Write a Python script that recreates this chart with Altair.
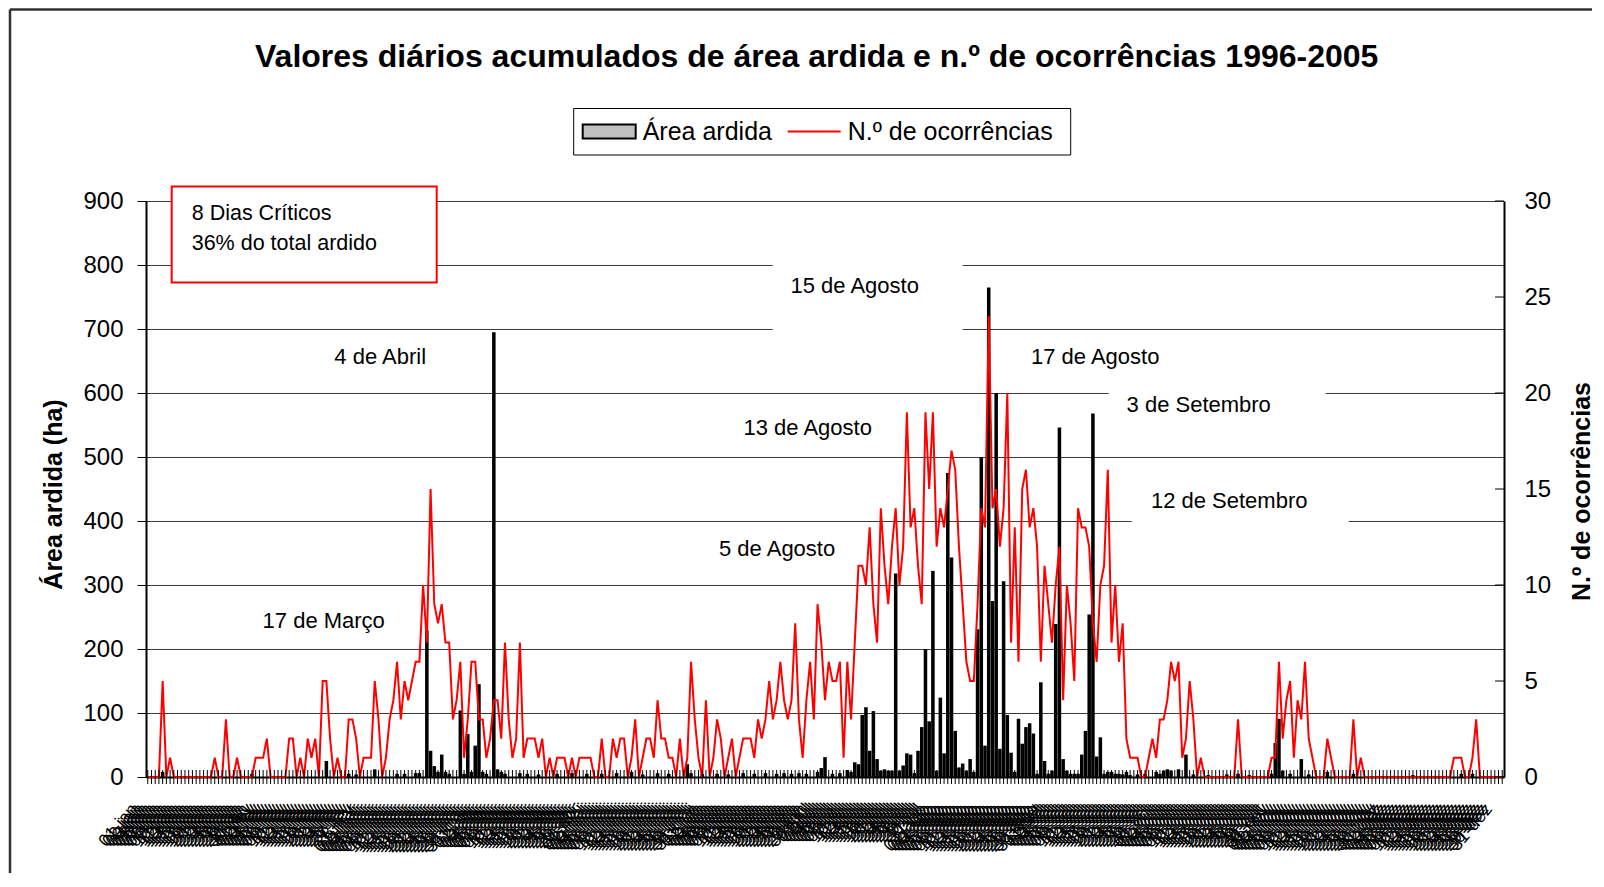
import altair as alt
import pandas as pd

TITULO = "Valores diários acumulados de área ardida e n.º de ocorrências 1996-2005"
MESES = ["jan", "fev", "mar", "abr", "mai", "jun", "jul", "ago", "set", "out", "nov", "dez"]

# N.º de ocorrências (eixo direito), por dia, mês a mês
ocorr_jan = [0, 0, 0, 0, 5, 0, 1, 0, 0, 0, 0, 0, 0, 0, 0, 0, 0, 0, 1, 0, 0, 3, 0, 0, 1, 0, 0, 0, 0, 1, 1]
ocorr_fev = [1, 2, 0, 0, 0, 0, 0, 2, 2, 0, 1, 0, 2, 1, 2, 0, 5, 5, 2, 0, 1, 0, 0, 3, 3, 2, 0, 1]
ocorr_mar = [1, 1, 5, 3, 0, 1, 3, 4, 6, 3, 5, 4, 5, 6, 6, 10, 7, 15, 9, 8, 9, 7, 7, 3, 4, 6, 1, 3, 6, 6, 3]
ocorr_abr = [3, 1, 2, 4, 4, 2, 7, 3, 1, 2, 7, 1, 2, 2, 2, 1, 2, 0, 1, 0, 1, 1, 1, 0, 1, 0, 1, 1, 1, 1]
ocorr_mai = [0, 0, 2, 0, 0, 2, 1, 2, 2, 0, 1, 3, 0, 1, 2, 2, 1, 4, 2, 2, 1, 1, 0, 2, 0, 1, 6, 3, 1, 0, 4]
ocorr_jun = [0, 1, 3, 2, 0, 1, 2, 0, 1, 2, 2, 2, 1, 3, 2, 3, 5, 3, 4, 6, 4, 3, 4, 8, 3, 1, 4, 6, 3, 9]
ocorr_jul = [7, 4, 6, 5, 5, 6, 1, 6, 3, 7, 11, 11, 10, 13, 9, 7, 14, 11, 9, 12, 14, 10, 12, 19, 13, 14, 11, 9, 19, 15, 19]
ocorr_ago = [12, 14, 13, 15, 17, 16, 12, 9, 6, 5, 5, 9, 14, 13, 24, 14, 15, 12, 14, 20, 7, 13, 6, 15, 16, 13, 14, 12, 6, 11, 9]
ocorr_set = [7, 10, 12, 4, 10, 8, 5, 14, 13, 13, 12, 8, 6, 10, 11, 16, 7, 10, 6, 8, 2, 1, 1, 1, 0, 0, 1, 2, 1, 3]
ocorr_out = [3, 4, 6, 5, 6, 1, 2, 5, 3, 0, 1, 0, 0, 0, 0, 0, 0, 0, 0, 0, 3, 0, 0, 0, 0, 0, 0, 0, 0, 1, 1]
ocorr_nov = [6, 2, 4, 5, 1, 4, 3, 6, 2, 1, 0, 0, 0, 2, 1, 0, 0, 0, 0, 0, 3, 0, 1, 0, 0, 0, 0, 0, 0, 0]
ocorr_dez = [0, 0, 0, 0, 0, 0, 0, 0, 0, 0, 0, 0, 0, 0, 0, 0, 0, 1, 1, 1, 0, 0, 1, 3, 0, 0, 0, 0, 0, 0, 0]

# Área ardida (ha) (eixo esquerdo), por dia, mês a mês
area_jan = [0, 0, 0, 0, 8, 0, 0, 0, 0, 0, 0, 0, 0, 0, 0, 0, 0, 0, 0, 0, 0, 0, 0, 0, 0, 0, 0, 0, 5, 0, 0]
area_fev = [0, 0, 0, 0, 0, 0, 0, 0, 0, 0, 0, 0, 0, 0, 0, 0, 0, 25, 0, 0, 0, 0, 0, 5, 0, 4, 0, 0]
area_mar = [0, 0, 12, 0, 0, 0, 0, 0, 5, 0, 5, 0, 0, 6, 6, 0, 229, 41, 17, 8, 35, 8, 5, 0, 0, 104, 5, 67, 8, 49, 145]
area_abr = [8, 5, 0, 695, 12, 8, 5, 0, 0, 0, 6, 0, 5, 0, 0, 4, 0, 0, 0, 0, 5, 0, 0, 0, 6, 0, 0, 0, 5, 0]
area_mai = [0, 0, 5, 0, 0, 0, 6, 0, 0, 0, 8, 0, 0, 4, 0, 0, 0, 6, 0, 0, 5, 0, 0, 0, 0, 20, 6, 0, 0, 5, 0]
area_jun = [0, 0, 5, 0, 0, 4, 0, 0, 0, 6, 0, 0, 5, 0, 0, 6, 0, 0, 5, 0, 6, 0, 5, 0, 6, 0, 5, 0, 0, 8]
area_jul = [14, 31, 0, 5, 0, 6, 0, 11, 8, 23, 20, 97, 109, 41, 103, 28, 10, 12, 10, 10, 318, 10, 18, 37, 35, 6, 41, 78, 200, 87, 322]
area_ago = [10, 124, 37, 475, 343, 72, 15, 21, 10, 28, 8, 231, 500, 49, 765, 275, 600, 44, 306, 97, 38, 8, 91, 52, 78, 84, 68, 5, 148, 25, 5]
area_set = [10, 239, 546, 28, 10, 5, 5, 5, 35, 72, 254, 568, 32, 62, 5, 8, 8, 5, 5, 4, 8, 3, 0, 4, 0, 5, 0, 0, 8, 5]
area_out = [10, 12, 10, 0, 12, 0, 35, 0, 4, 0, 0, 0, 3, 0, 0, 0, 0, 4, 0, 0, 5, 0, 0, 3, 0, 0, 0, 0, 0, 5, 53]
area_nov = [91, 10, 0, 5, 0, 0, 28, 0, 4, 0, 0, 0, 0, 8, 0, 0, 0, 0, 0, 0, 5, 0, 0, 0, 0, 0, 0, 0, 0, 0]
area_dez = [0, 0, 0, 0, 0, 0, 3, 0, 0, 0, 0, 0, 0, 0, 0, 0, 0, 0, 0, 5, 0, 0, 5, 0, 0, 0, 0, 0, 0, 0, 0]

AREA_TICKS = [0, 100, 200, 300, 400, 500, 600, 700, 800, 900]
OCORR_TICKS = [0, 5, 10, 15, 20, 25, 30]

ROTULOS = ["15 de Agosto", "4 de Abril", "17 de Agosto", "3 de Setembro",
           "12 de Setembro", "13 de Agosto", "5 de Agosto", "17 de Março"]
CAIXA = ["8 Dias Críticos", "36% do total ardido"]
LEGENDA = ["Área ardida", "N.º de ocorrências"]

OCORR = [ocorr_jan, ocorr_fev, ocorr_mar, ocorr_abr, ocorr_mai, ocorr_jun,
         ocorr_jul, ocorr_ago, ocorr_set, ocorr_out, ocorr_nov, ocorr_dez]
AREA = [area_jan, area_fev, area_mar, area_abr, area_mai, area_jun,
        area_jul, area_ago, area_set, area_out, area_nov, area_dez]

dias, area, ocorr = [], [], []
for mes, a_list, o_list in zip(MESES, AREA, OCORR):
    for d, (a, o) in enumerate(zip(a_list, o_list), start=1):
        dias.append(f"{d:02d}-{mes}")
        area.append(a)
        ocorr.append(o)
df = pd.DataFrame({"dia": dias, "area": area, "n": ocorr})

# ---------------- layout (pixels relative to plot area) ----------------
W, H = 1358, 576
FONT = "Liberation Sans"
ONE = pd.DataFrame({"k": [0]})

xenc = alt.X(
    "dia:N", sort=dias, title=None,
    scale=alt.Scale(paddingInner=0.05, paddingOuter=0),
    axis=alt.Axis(labelAngle=310, labelAlign="right", labelBaseline="middle",
                  labelFontSize=18, labelPadding=29, labelOffset=-13,
                  labelOverlap=False, labelColor="black", ticks=False,
                  domainColor="black", domainWidth=2, labelFont=FONT),
)

bars = alt.Chart(df).mark_bar(color="black").encode(
    x=xenc,
    y=alt.Y("area:Q", scale=alt.Scale(domain=[0, 900], nice=False),
            axis=alt.Axis(values=AREA_TICKS, title="Área ardida (ha)",
                          titleFontSize=25, titleFontWeight="bold", titleAngle=270,
                          titleX=-93, titleY=293, titleAlign="center",
                          titleBaseline="middle", titleColor="black",
                          labelFontSize=24, labelPadding=14, labelColor="black",
                          tickSize=9, tickColor="black", domainColor="black",
                          domainWidth=2, grid=True, gridColor="#3a3a3a",
                          gridWidth=1, labelFont=FONT, titleFont=FONT)),
)

line = alt.Chart(df).mark_line(color="#ff0000", strokeWidth=2).encode(
    x=xenc,
    y=alt.Y("n:Q", scale=alt.Scale(domain=[0, 30], nice=False),
            axis=alt.Axis(orient="right", values=OCORR_TICKS,
                          title="N.º de ocorrências", titleFontSize=25,
                          titleFontWeight="bold", titleAngle=270, titleX=77,
                          titleY=290, titleAlign="center", titleBaseline="middle",
                          titleColor="black", labelFontSize=24, labelPadding=20,
                          labelColor="black", ticks=False, domainColor="black",
                          domainWidth=2, grid=False, labelFont=FONT, titleFont=FONT)),
)

xticks = alt.Chart(df).mark_rule(color="black", strokeWidth=1).encode(
    x=xenc, y=alt.value(H - 7), y2=alt.value(H + 7)
)

rticks = alt.Chart(pd.DataFrame({"v": OCORR_TICKS})).mark_rule(
    color="black", strokeWidth=1).encode(
    y=alt.Y("v:Q", scale=alt.Scale(domain=[0, 30], nice=False), axis=None),
    x=alt.value(W - 9), x2=alt.value(W),
)

layers = []
# chart-area border (top and left)
layers.append(alt.Chart(ONE).mark_rule(color="#333333", strokeWidth=2.5).encode(
    x=alt.value(-136), x2=alt.value(1446), y=alt.value(-191.5)))
layers.append(alt.Chart(ONE).mark_rule(color="#333333", strokeWidth=2.5).encode(
    x=alt.value(-136), y=alt.value(-191.5), y2=alt.value(672)))

layers += [bars, line, xticks, rticks]

# white boxes behind date labels
for (x1, y1, x2, y2) in [(626.7, 58, 816.7, 132), (962.7, 182, 1179.7, 222),
                         (985.7, 282, 1202.7, 323)]:
    layers.append(alt.Chart(ONE).mark_rect(color="white").encode(
        x=alt.value(x1), x2=alt.value(x2), y=alt.value(y1), y2=alt.value(y2)))

ROT_POS = [(708.7, 84.9), (234.2, 155.5), (949.2, 155.5), (1052.7, 203.5),
           (1083.2, 299.5), (661.7, 227.1), (631.1, 347.5), (177.7, 419.5)]
for txt, (px, py) in zip(ROTULOS, ROT_POS):
    layers.append(alt.Chart(pd.DataFrame({"t": [txt]})).mark_text(
        font=FONT, fontSize=22, align="center", baseline="middle", color="black"
    ).encode(text="t:N", x=alt.value(px), y=alt.value(py)))

# critical-days box
layers.append(alt.Chart(ONE).mark_rect(fill="white", stroke="#ff0000", strokeWidth=2).encode(
    x=alt.value(25.7), x2=alt.value(290.7), y=alt.value(-14.5), y2=alt.value(81.5)))
for txt, py in zip(CAIXA, [12.5, 42.5]):
    layers.append(alt.Chart(pd.DataFrame({"t": [txt]})).mark_text(
        font=FONT, fontSize=21.5, align="left", baseline="middle", color="black"
    ).encode(text="t:N", x=alt.value(45.7), y=alt.value(py)))

# legend
layers.append(alt.Chart(ONE).mark_rect(fill="white", stroke="black", strokeWidth=1).encode(
    x=alt.value(427.7), x2=alt.value(924.7), y=alt.value(-92.5), y2=alt.value(-46)))
layers.append(alt.Chart(ONE).mark_rect(fill="#c0c0c0", stroke="black", strokeWidth=2).encode(
    x=alt.value(436.7), x2=alt.value(489.7), y=alt.value(-76.5), y2=alt.value(-62.5)))
layers.append(alt.Chart(ONE).mark_rule(color="#ff0000", strokeWidth=2).encode(
    x=alt.value(641.7), x2=alt.value(694.7), y=alt.value(-69.5)))
for txt, px in zip(LEGENDA, [496.7, 701.7]):
    layers.append(alt.Chart(pd.DataFrame({"t": [txt]})).mark_text(
        font=FONT, fontSize=25, align="left", baseline="middle", color="black"
    ).encode(text="t:N", x=alt.value(px), y=alt.value(-69.5)))

# title
layers.append(alt.Chart(pd.DataFrame({"t": [TITULO]})).mark_text(
    font=FONT, fontSize=32, fontWeight="bold", align="center", baseline="middle",
    color="black"
).encode(text="t:N", x=alt.value(670.7), y=alt.value(-144.5)))

chart = alt.layer(*layers).resolve_scale(y="independent").properties(
    width=W, height=H, padding=0
).configure_view(stroke="black", strokeWidth=2).configure(font=FONT)

chart.save("out.html", embed_options={"renderer": "svg", "actions": False})
